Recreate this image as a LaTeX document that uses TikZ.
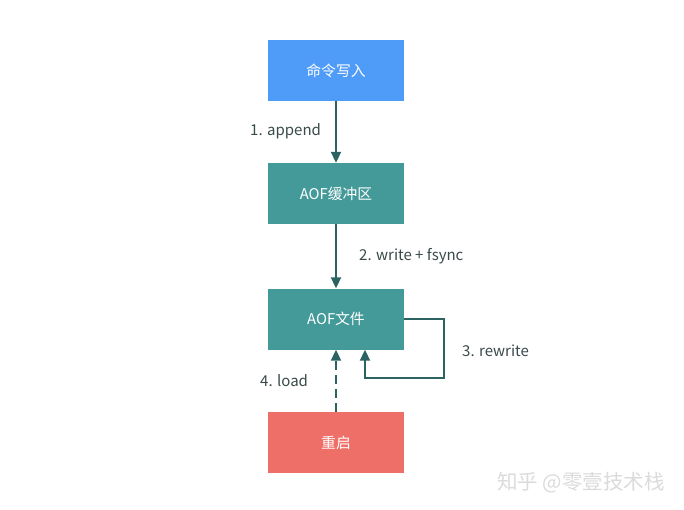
\documentclass[tikz,border=0pt]{standalone}
\usepackage{fontspec}
\setmainfont{Noto Sans CJK SC}
\usetikzlibrary{arrows.meta}
\definecolor{cblue}{HTML}{4F9BF8}
\definecolor{cteal}{HTML}{439A98}
\definecolor{cred}{HTML}{EE6F68}
\definecolor{carrow}{HTML}{2B6262}
\definecolor{clabel}{HTML}{3A4A4A}
\tikzset{
  box/.style={minimum width=136pt, minimum height=61pt, inner sep=0pt, text=white, font=\fontsize{14.8}{17}\selectfont},
  conn/.style={draw=carrow, line width=2pt, -{Triangle[length=11pt,width=10pt]}},
  lbl/.style={text=clabel, font=\fontsize{15}{18}\selectfont, inner sep=0pt}
}
\begin{document}
\begin{tikzpicture}[x=1pt,y=-1pt]
\useasboundingbox (0,0) rectangle (684,510);
\fill[white] (0,0) rectangle (684,510);
\node[box, fill=cblue] (cmd) at (336,70.5) {命令写入};
\node[box, fill=cteal] (buf) at (336,193.5) {AOF缓冲区};
\node[box, fill=cteal] (file) at (336,319) {AOF文件};
\node[box, fill=cred] (rst) at (336,442.5) {重启};
\draw[conn] (cmd) -- (buf);
\draw[conn] (buf) -- (file);
\coordinate (r1) at (444,319);
\coordinate (r2) at (444,378);
\coordinate (r3) at (365,378);
\draw[conn] (file.east) -- (r1) -- (r2) -- (r3) -- (file.south -| r3);
\draw[conn, dash pattern=on 9pt off 5pt] (rst) -- (file);
\node[lbl, anchor=west] (l1) at (250,131) {1. append};
\node[lbl, anchor=west] (l2) at (359,256) {2. write + fsync};
\node[lbl, anchor=west] (l3) at (462,351) {3. rewrite};
\node[lbl, anchor=west] (l4) at (260,381) {4. load};
\node[text=black!14, font=\fontsize{20.5}{23}\selectfont, anchor=west, inner sep=0pt] (wm) at (497,483) {知乎 @零壹技术栈};
\end{tikzpicture}
\end{document}
